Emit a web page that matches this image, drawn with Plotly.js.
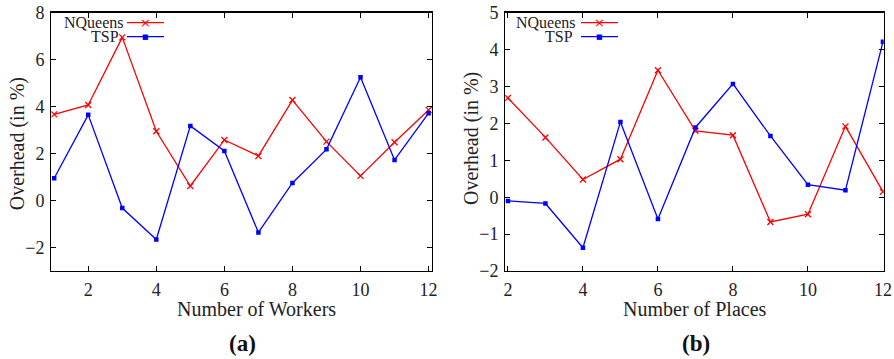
<!DOCTYPE html>
<html>
<head>
<meta charset="utf-8">
<script src="https://cdn.plot.ly/plotly-3.0.1.min.js"></script>
<style>html,body{margin:0;padding:0;background:#fff}#chart{width:894px;height:359px}</style>
</head>
<body>
<div id="chart"></div>
<script>
// ---- data ----
const workers = [1,2,3,4,5,6,7,8,9,10,11,12];
const nqueensWorkers = [3.67,4.07,6.95,2.95,0.62,2.58,1.9,4.28,2.51,1.05,2.48,3.86];
const tspWorkers = [0.95,3.65,-0.32,-1.66,3.18,2.11,-1.36,0.75,2.18,5.25,1.73,3.72];

const places = [2,3,4,5,6,7,8,9,10,11,12];
const nqueensPlaces = [2.69,1.62,0.48,1.03,3.44,1.8,1.68,-0.67,-0.46,1.92,0.15];
const tspPlaces = [-0.1,-0.17,-1.37,2.04,-0.59,1.89,3.07,1.66,0.34,0.19,4.21];

const seriesNames = ["NQueens","TSP"];
const panelLabels = ["(a)","(b)"];
const xTitles = ["Number of Workers","Number of Places"];
const yTitle = "Overhead (in %)";

// ---- styling ----
const W = 894, H = 359;
const RED = "#ff0000", BLUE = "#0000ff";
const FONT = "'Liberation Serif', 'Times New Roman', serif";
const px = x => x / W;
const py = y => 1 - y / H;

const traces = [
  {x: workers, y: nqueensWorkers, name: seriesNames[0], xaxis: "x", yaxis: "y", mode: "lines+markers",
   line: {color: RED, width: 1.3}, marker: {symbol: "x-thin", size: 6, color: RED, line: {color: RED, width: 1.3}}},
  {x: workers, y: tspWorkers, name: seriesNames[1], xaxis: "x", yaxis: "y", mode: "lines+markers",
   line: {color: BLUE, width: 1.3}, marker: {symbol: "square", size: 4.5, color: BLUE}},
  {x: places, y: nqueensPlaces, name: seriesNames[0], xaxis: "x2", yaxis: "y2", mode: "lines+markers",
   line: {color: RED, width: 1.3}, marker: {symbol: "x-thin", size: 6, color: RED, line: {color: RED, width: 1.3}}},
  {x: places, y: tspPlaces, name: seriesNames[1], xaxis: "x2", yaxis: "y2", mode: "lines+markers",
   line: {color: BLUE, width: 1.3}, marker: {symbol: "square", size: 4.5, color: BLUE}}
];

const axisCommon = {
  showline: true, linecolor: "#000", linewidth: 1.3, mirror: "ticks",
  ticks: "inside", ticklen: 5, tickwidth: 1, tickcolor: "#000",
  showgrid: false, zeroline: false, automargin: false,
  tickfont: {family: FONT, size: 18, color: "#222"}
};

const yDom = [1 - 271 / H, 1 - 12.7 / H];

const layout = {
  width: W, height: H,
  margin: {l: 0, r: 0, t: 0, b: 0, autoexpand: false},
  paper_bgcolor: "#fff", plot_bgcolor: "#fff",
  showlegend: false,
  font: {family: FONT},
  xaxis: Object.assign({}, axisCommon, {domain: [px(51.3), px(432)], range: [0.915, 12.1], dtick: 2, tick0: 0, anchor: "y", ticklabelstandoff: 2}),
  yaxis: Object.assign({}, axisCommon, {domain: yDom, range: [-3, 8], dtick: 2, tick0: 0, anchor: "x", ticklabelstandoff: 2}),
  xaxis2: Object.assign({}, axisCommon, {domain: [px(505.3), px(883.7)], range: [1.93, 12.02], dtick: 2, tick0: 0, anchor: "y2", ticklabelstandoff: 2}),
  yaxis2: Object.assign({}, axisCommon, {domain: yDom, range: [-2, 5], dtick: 1, tick0: 0, anchor: "x2", ticklabelstandoff: 2}),
  annotations: [],
  shapes: []
};

const titleFont = {family: FONT, size: 20, color: "#222"};
// axis titles and panel labels: [x-title center, panel label center, y-title x, y-title y]
[[256.5, 242.5, 18.3, 144, 0], [695, 696, 471.7, 138.3, 1]].forEach(([cx, cp, ytx, yty, i]) => {
  layout.annotations.push({xref: "paper", yref: "paper", x: px(cx), y: py(309), text: xTitles[i], showarrow: false,
    xanchor: "center", yanchor: "middle", borderpad: 0, font: titleFont});
  layout.annotations.push({xref: "paper", yref: "paper", x: px(cp), y: py(343), text: "<b>" + panelLabels[i] + "</b>", showarrow: false,
    xanchor: "center", yanchor: "middle", font: {family: FONT, size: 23, color: "#111"}});
  layout.annotations.push({xref: "paper", yref: "paper", x: px(ytx), y: py(yty), text: yTitle, showarrow: false,
    textangle: -90, xanchor: "center", yanchor: "middle", font: titleFont});
});

// legends (gnuplot style: text right, sample after)
const legendFont = {family: FONT, size: 16, color: "#222"};
[[124.5, 120, 127, 164], [577, 574, 581, 618]].forEach(([tx1, tx2, l0, l1]) => {
  [[22.7, tx1, seriesNames[0], RED, "×", 13], [36.7, tx2, seriesNames[1], BLUE, "■", 7]].forEach(([yy, tx, nm, col, glyph, gs]) => {
    layout.annotations.push({xref: "paper", yref: "paper", x: px(tx), y: py(yy), text: nm, showarrow: false,
      xanchor: "right", yanchor: "middle", borderpad: 0, font: legendFont});
    layout.shapes.push({type: "line", xref: "paper", yref: "paper", x0: px(l0), x1: px(l1), y0: py(yy), y1: py(yy),
      line: {color: col, width: 1.3}});
    layout.annotations.push({xref: "paper", yref: "paper", x: px((l0 + l1) / 2), y: py(yy), text: glyph, showarrow: false,
      xanchor: "center", yanchor: "middle", borderpad: 0, font: {family: "DejaVu Sans", size: gs, color: col}});
  });
});

Plotly.newPlot("chart", traces, layout, {staticPlot: true, displayModeBar: false});
</script>
</body>
</html>
